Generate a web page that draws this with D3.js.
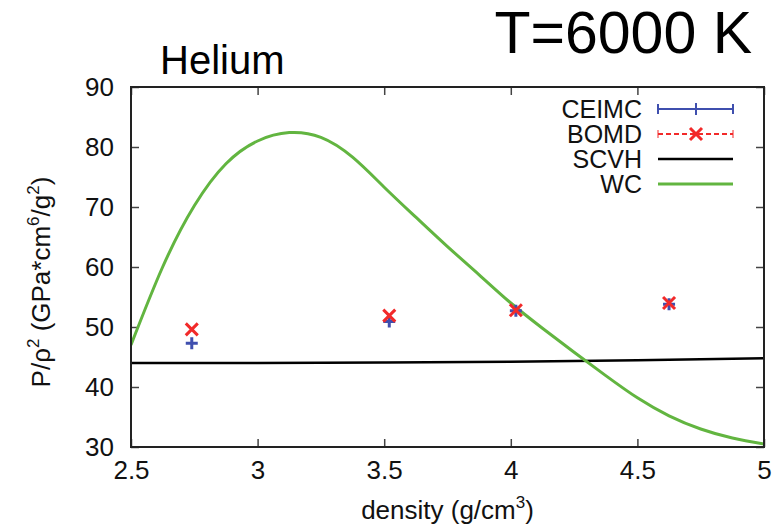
<!DOCTYPE html>
<html>
<head>
<meta charset="utf-8">
<script src="https://cdn.jsdelivr.net/npm/d3@7"></script>
<style>
  body { margin: 0; background: #fff; }
  svg { font-family: "Liberation Sans", Arial, sans-serif; }
</style>
</head>
<body>
<script>
// data
var density = [2.74, 3.52, 4.02, 4.625];
var ceimc = [47.3, 50.9, 52.7, 53.8];
var bomd = [49.6, 51.9, 52.8, 54.0];

var scvhX = [2.5, 3.0, 3.5, 4.0, 4.5, 5.0];
var scvhY = [44.0, 44.02, 44.08, 44.2, 44.45, 44.8];

var wcX = [2.5, 2.625, 2.75, 2.875, 3.0, 3.125, 3.25, 3.375, 3.5, 3.625, 3.75,
           3.875, 4.0, 4.125, 4.25, 4.375, 4.5, 4.625, 4.75, 4.875, 5.0];
var wcY = [47.0, 60.0, 70.2, 77.2, 81.0, 82.4, 81.6, 78.3, 73.3, 68.3, 63.4,
           58.7, 54.0, 49.8, 45.8, 41.9, 38.2, 35.2, 33.0, 31.5, 30.5];

var xTicks = [2.5, 3, 3.5, 4, 4.5, 5];
var yTicks = [30, 40, 50, 60, 70, 80, 90];
var legendNames = ["CEIMC", "BOMD", "SCVH", "WC"];

var blue = "#3f4fae", red = "#f22a2a", green = "#62b540";

var W = 784, H = 527;
var pLeft = 131, pRight = 764, pTop = 87, pBottom = 447;

var x = d3.scaleLinear().domain([2.5, 5]).range([pLeft, pRight]);
var y = d3.scaleLinear().domain([30, 90]).range([pBottom, pTop]);

var svg = d3.select("body").append("svg")
    .attr("width", W)
    .attr("height", H);

// ticks on all four sides, pointing in
svg.append("g")
    .attr("transform", `translate(0,${pBottom})`)
    .call(d3.axisBottom(x).tickValues(xTicks).tickFormat(d3.format("")).tickSize(-8).tickPadding(14))
    .call(g => g.select(".domain").remove());
svg.append("g")
    .attr("transform", `translate(0,${pTop})`)
    .call(d3.axisTop(x).tickValues(xTicks).tickFormat("").tickSize(-8))
    .call(g => g.select(".domain").remove());
svg.append("g")
    .attr("transform", `translate(${pLeft},0)`)
    .call(d3.axisLeft(y).tickValues(yTicks).tickSize(-8).tickPadding(17))
    .call(g => g.select(".domain").remove());
svg.append("g")
    .attr("transform", `translate(${pRight},0)`)
    .call(d3.axisRight(y).tickValues(yTicks).tickFormat("").tickSize(-8))
    .call(g => g.select(".domain").remove());

svg.selectAll(".tick line").attr("stroke", "#444").attr("stroke-width", 1.5);
svg.selectAll(".tick text")
    .attr("font-size", 26)
    .attr("font-family", "Liberation Sans, Arial, sans-serif")
    .attr("fill", "#111");

// clip for curves
svg.append("clipPath").attr("id", "clip")
  .append("rect")
    .attr("x", pLeft).attr("y", pTop)
    .attr("width", pRight - pLeft).attr("height", pBottom - pTop);

var scvhLine = d3.line()
    .x((d, i) => x(scvhX[i]))
    .y(d => y(d))
    .curve(d3.curveMonotoneX);

svg.append("path")
    .attr("d", scvhLine(scvhY))
    .attr("fill", "none")
    .attr("stroke", "#000")
    .attr("stroke-width", 2.5)
    .attr("clip-path", "url(#clip)");

var wcLine = d3.line()
    .x((d, i) => x(wcX[i]))
    .y(d => y(d))
    .curve(d3.curveNatural);

svg.append("path")
    .attr("d", wcLine(wcY))
    .attr("fill", "none")
    .attr("stroke", green)
    .attr("stroke-width", 3)
    .attr("clip-path", "url(#clip)");

// markers
var plus = function(g, cx, cy, s) {
  g.append("path")
    .attr("d", `M${cx - s},${cy}H${cx + s}M${cx},${cy - s}V${cy + s}`)
    .attr("stroke", blue).attr("stroke-width", 3).attr("fill", "none");
};
var cross = function(g, cx, cy, s) {
  g.append("path")
    .attr("d", `M${cx - s},${cy - s}L${cx + s},${cy + s}M${cx - s},${cy + s}L${cx + s},${cy - s}`)
    .attr("stroke", red).attr("stroke-width", 3).attr("fill", "none");
};

var marks = svg.append("g");
density.forEach(function(d, i) {
  plus(marks, x(d), y(ceimc[i]), 6);
});
density.forEach(function(d, i) {
  cross(marks, x(d), y(bomd[i]), 6);
});

// frame
svg.append("rect")
    .attr("x", pLeft).attr("y", pTop)
    .attr("width", pRight - pLeft).attr("height", pBottom - pTop)
    .attr("fill", "none")
    .attr("stroke", "#222")
    .attr("stroke-width", 2);

// legend
var lg = svg.append("g").attr("font-size", 25).attr("fill", "#111");
var lx0 = 658, lx1 = 733, lxm = 696;
legendNames.forEach(function(name, i) {
  var ly = 109 + i * 25;
  lg.append("text")
      .attr("x", 642).attr("y", ly)
      .attr("dy", "0.36em")
      .attr("text-anchor", "end")
      .text(name);
  if (i == 0) {
    lg.append("path")
      .attr("d", `M${lx0},${ly}H${lx1}M${lx0},${ly - 5}V${ly + 5}M${lx1},${ly - 5}V${ly + 5}M${lxm},${ly - 6}V${ly + 6}`)
      .attr("stroke", blue).attr("stroke-width", 2).attr("fill", "none");
  } else if (i == 1) {
    lg.append("path")
      .attr("d", `M${lx0},${ly}H${lx1}`)
      .attr("stroke", red).attr("stroke-width", 2).attr("stroke-dasharray", "5,3").attr("fill", "none");
    lg.append("path")
      .attr("d", `M${lx0},${ly - 4}V${ly + 4}M${lx1},${ly - 4}V${ly + 4}`)
      .attr("stroke", red).attr("stroke-width", 1).attr("fill", "none");
    cross(lg, lxm, ly, 6);
  } else {
    lg.append("path")
      .attr("d", `M${lx0},${ly}H${lx1}`)
      .attr("stroke", i == 2 ? "#000" : green).attr("stroke-width", i == 2 ? 2.5 : 3);
  }
});

// titles
svg.append("text")
    .attr("x", 160).attr("y", 74)
    .attr("font-size", 40)
    .attr("fill", "#000")
    .text("Helium");

svg.append("text")
    .attr("x", 752).attr("y", 53)
    .attr("text-anchor", "end")
    .attr("font-size", 59)
    .attr("fill", "#000")
    .text("T=6000 K");

var xl = svg.append("text")
    .attr("x", (pLeft + pRight) / 2).attr("y", 519)
    .attr("text-anchor", "middle")
    .attr("font-size", 26)
    .attr("fill", "#111");
xl.append("tspan").text("density (g/cm");
xl.append("tspan").attr("dy", -11).attr("font-size", 17).text("3");
xl.append("tspan").attr("dy", 11).text(")");

var yl = svg.append("text")
    .attr("transform", `translate(50,282) rotate(-90)`)
    .attr("text-anchor", "middle")
    .attr("font-size", 26)
    .attr("fill", "#111");
yl.append("tspan").text("P/\u03c1");
yl.append("tspan").attr("dy", -11).attr("font-size", 17).text("2");
yl.append("tspan").attr("dy", 11).text(" (GPa*cm");
yl.append("tspan").attr("dy", -11).attr("font-size", 17).text("6");
yl.append("tspan").attr("dy", 11).text("/g");
yl.append("tspan").attr("dy", -11).attr("font-size", 17).text("2");
yl.append("tspan").attr("dy", 11).text(")");
</script>
</body>
</html>
